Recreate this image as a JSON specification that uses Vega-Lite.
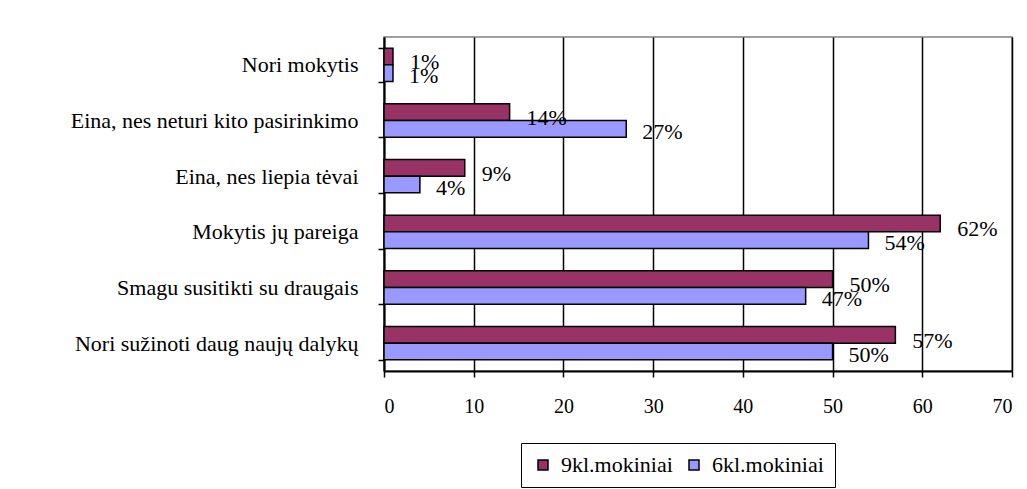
{
  "$schema": "https://vega.github.io/schema/vega-lite/v6.json",
  "width": 628,
  "height": 334,
  "autosize": {"type": "none"},
  "padding": {"left": 384, "top": 37, "right": 15, "bottom": 118},
  "background": "white",
  "config": {
    "font": "Times New Roman, Liberation Serif, serif",
    "view": {"stroke": "#808080", "strokeWidth": 1.5},
    "axis": {"labelFont": "Times New Roman, Liberation Serif, serif", "labelColor": "black", "domainColor": "black", "tickColor": "black"},
    "legend": {"labelFont": "Times New Roman, Liberation Serif, serif"},
    "text": {"font": "Times New Roman, Liberation Serif, serif"}
  },
  "data": {
    "values": [
      {"category": "Nori mokytis", "series": "9kl.mokiniai", "value": 1},
      {"category": "Nori mokytis", "series": "6kl.mokiniai", "value": 1},
      {"category": "Eina, nes neturi  kito pasirinkimo", "series": "9kl.mokiniai", "value": 14},
      {"category": "Eina, nes neturi  kito pasirinkimo", "series": "6kl.mokiniai", "value": 27},
      {"category": "Eina, nes liepia  tėvai", "series": "9kl.mokiniai", "value": 9},
      {"category": "Eina, nes liepia  tėvai", "series": "6kl.mokiniai", "value": 4},
      {"category": "Mokytis jų pareiga", "series": "9kl.mokiniai", "value": 62},
      {"category": "Mokytis jų pareiga", "series": "6kl.mokiniai", "value": 54},
      {"category": "Smagu susitikti su draugais", "series": "9kl.mokiniai", "value": 50},
      {"category": "Smagu susitikti su draugais", "series": "6kl.mokiniai", "value": 47},
      {"category": "Nori sužinoti daug naujų dalykų", "series": "9kl.mokiniai", "value": 57},
      {"category": "Nori sužinoti daug naujų dalykų", "series": "6kl.mokiniai", "value": 50}
    ]
  },
  "encoding": {
    "y": {
      "field": "category",
      "type": "nominal",
      "sort": ["Nori mokytis", "Eina, nes neturi  kito pasirinkimo", "Eina, nes liepia  tėvai", "Mokytis jų pareiga", "Smagu susitikti su draugais", "Nori sužinoti daug naujų dalykų"],
      "scale": {"paddingInner": 0.4, "paddingOuter": 0.2},
      "axis": {
        "title": null,
        "tickBand": "extent",
        "tickSize": 6,
        "tickWidth": 1.5,
        "domainWidth": 2,
        "labelFontSize": 22,
        "labelPadding": 20,
        "labelLimit": 400,
        "grid": false
      }
    },
    "yOffset": {
      "field": "series",
      "type": "nominal",
      "sort": ["9kl.mokiniai", "6kl.mokiniai"],
      "scale": {"paddingInner": 0, "paddingOuter": 0}
    },
    "x": {
      "field": "value",
      "type": "quantitative",
      "scale": {"domain": [0, 70], "nice": false},
      "axis": {
        "title": null,
        "values": [0, 10, 20, 30, 40, 50, 60, 70],
        "grid": true,
        "gridColor": "black",
        "gridWidth": 1.5,
        "gridOpacity": 1,
        "tickSize": 6,
        "tickWidth": 1.5,
        "domainWidth": 2,
        "labelFontSize": 20,
        "labelPadding": 19
      }
    }
  },
  "layer": [
    {
      "mark": {"type": "bar", "stroke": "black", "strokeWidth": 1.5},
      "encoding": {
        "color": {
          "field": "series",
          "type": "nominal",
          "scale": {"domain": ["9kl.mokiniai", "6kl.mokiniai"], "range": ["#993366", "#9999FF"]},
          "legend": {
            "title": null,
            "orient": "none",
            "legendX": 137,
            "legendY": 406,
            "direction": "horizontal",
            "strokeColor": "black",
            "padding": 11,
            "labelFontSize": 22,
            "labelColor": "black",
            "symbolType": "square",
            "symbolSize": 100,
            "symbolStrokeColor": "black",
            "symbolStrokeWidth": 1.5,
            "columnPadding": 10,
            "labelOffset": 7
          }
        }
      }
    },
    {
      "transform": [
        {"filter": "datum.series == '9kl.mokiniai'"},
        {"calculate": "datum.value + '%'", "as": "label"}
      ],
      "mark": {"type": "text", "align": "left", "baseline": "middle", "dx": 17, "dy": 6, "fontSize": 22, "color": "black"},
      "encoding": {
        "text": {"field": "label", "type": "nominal"}
      }
    },
    {
      "transform": [
        {"filter": "datum.series == '6kl.mokiniai'"},
        {"calculate": "datum.value + '%'", "as": "label"}
      ],
      "mark": {"type": "text", "align": "left", "baseline": "middle", "dx": 16, "dy": 3, "fontSize": 22, "color": "black"},
      "encoding": {
        "text": {"field": "label", "type": "nominal"}
      }
    }
  ]
}
